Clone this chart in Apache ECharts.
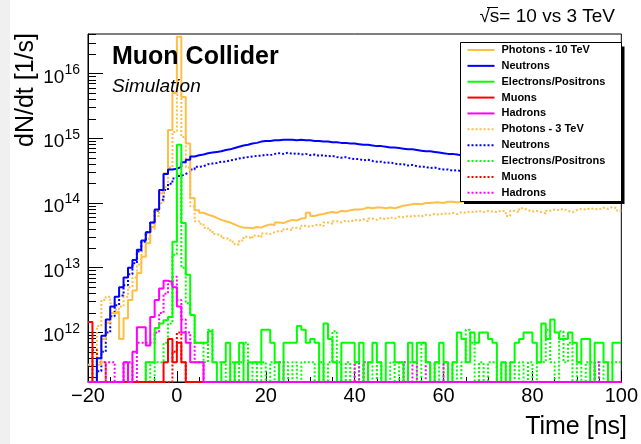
<!DOCTYPE html>
<html>
<head>
<meta charset="utf-8">
<script src="https://cdn.jsdelivr.net/npm/echarts@6/dist/echarts.min.js"></script>
<style>html,body{margin:0;padding:0;background:#fff;}#c{width:641px;height:444px;}</style>
</head>
<body>
<div id="c"></div>
<script>
// Histogram bins: 1 ns wide, from -20 ns to 100 ns (120 bins)
const BIN_START = -20, BIN_WIDTH = 1, NBINS = 120;
// Values are log10(dN/dt [1/s]) per bin; 0 = empty bin (drawn on the frame bottom)
const Y_MIN = 11.234, Y_MAX = 16.613;
const xTicks = [-20, 0, 20, 40, 60, 80, 100];
const yDecades = [12, 13, 14, 15, 16];

const photons10 = [
0,0,11.5,11.9,12.15,12.3,12.32,11.9,12.22,12.5,
12.65,12.92,13.17,13.38,13.63,13.89,14.15,14.46,15.13,15.7,
16.57,15.64,14.92,14.08,13.89,13.85,13.82,13.8,13.77,13.74,
13.72,13.7,13.67,13.64,13.62,13.62,13.61,13.63,13.62,13.65,
13.67,13.66,13.7,13.69,13.72,13.74,13.73,13.76,13.77,13.85,
13.8,13.82,13.83,13.85,13.86,13.85,13.88,13.87,13.89,13.9,
13.9,13.91,13.93,13.92,13.93,13.93,13.92,13.93,13.92,13.94,
13.96,13.97,13.98,13.99,13.98,14.0,14.0,14.01,14.01,14.0,
14.02,14.02,14.01,14.02,14.03,14.03,14.04,14.03,14.04,14.04,
14.05,14.04,14.05,14.05,14.06,14.05,14.06,14.06,14.06,14.07,
14.06,14.07,14.07,14.07,14.08,14.07,14.08,14.08,14.08,14.08,
14.09,14.08,14.09,14.08,14.09,14.09,14.08,14.09,14.09,14.08];

const neutrons10 = [
0,0,11.6,11.95,12.2,12.4,12.55,12.7,12.85,13.0,
13.12,13.28,13.42,13.55,13.7,13.9,14.2,14.45,14.52,14.53,
14.56,14.63,14.67,14.72,14.74,14.75,14.77,14.78,14.79,14.8,
14.82,14.83,14.85,14.87,14.89,14.9,14.92,14.93,14.95,14.96,
14.96,14.97,14.97,14.98,14.98,14.98,14.97,14.98,14.97,14.97,
14.96,14.96,14.95,14.95,14.94,14.94,14.93,14.93,14.92,14.92,
14.91,14.9,14.9,14.89,14.88,14.88,14.87,14.86,14.86,14.85,
14.84,14.83,14.83,14.82,14.81,14.8,14.8,14.79,14.78,14.77,
14.76,14.76,14.75,14.74,14.73,14.72,14.71,14.7,14.69,14.68,
14.67,14.66,14.65,14.64,14.63,14.62,14.61,14.61,14.6,14.59,
14.58,14.57,14.56,14.56,14.55,14.54,14.53,14.53,14.52,14.52,
14.51,14.51,14.5,14.5,14.49,14.49,14.49,14.48,14.48,14.48];

const electrons10 = [
0,0,0,0,0,0,0,0,0,0,
0,0,0,11.54,11.54,12.07,12.14,12.19,12.24,13.4,
14.9,13.69,12.89,12.27,11.84,11.84,11.84,12.02,11.54,0,
11.54,11.84,0,11.54,11.84,0,11.54,11.54,11.54,12.04,
12.04,11.84,11.54,0,11.84,11.84,11.84,12.1,12.04,11.84,
11.9,11.84,0,12.14,11.9,11.54,0,11.84,11.84,11.84,
11.54,11.84,0,11.54,11.84,11.54,0,11.84,11.84,11.54,
11.54,0,11.84,11.54,11.84,11.84,11.54,0,11.54,11.84,
11.54,0,11.54,12.0,11.9,11.54,12.0,11.84,12.0,12.0,
11.9,11.84,0,11.54,0,11.54,11.84,11.9,12.0,12.0,
11.84,11.54,12.14,11.9,12.2,12.0,11.9,11.9,12.0,11.84,
11.54,11.9,11.9,0,11.84,11.84,11.54,0,11.84,11.84];

const muons10 = [
12.16,0,0,0,0,0,0,0,0,0,
0,0,0,0,0,0,0,11.54,11.9,11.54,
11.84,11.54,0,0,0,0,0,0,0,0,
0,0,0,0,0,0,0,0,0,0,
0,0,0,0,0,0,0,0,0,0,
0,0,0,0,0,0,0,0,0,0,
0,0,0,0,0,0,0,0,0,0,
0,0,0,0,0,0,0,0,0,0,
0,0,0,0,0,0,0,0,0,0,
0,0,0,0,0,0,0,0,0,0,
0,0,0,0,0,0,0,0,0,0,
0,0,0,0,0,0,0,0,0,0];

const hadrons10 = [
0,0,0,0,0,0,0,0,11.54,0,
11.7,12.08,12.08,11.8,12.24,12.5,12.68,12.8,12.78,12.7,
12.4,12.0,11.84,11.54,11.54,11.54,0,0,0,0,
0,0,0,0,0,0,0,0,0,0,
0,0,0,0,0,0,0,0,0,0,
0,0,0,0,0,0,0,0,0,0,
0,0,0,0,0,0,0,0,0,0,
0,0,0,0,0,0,0,0,0,0,
0,0,0,0,0,0,0,0,0,0,
0,0,0,0,0,0,0,0,0,0,
0,0,0,0,0,0,0,0,0,0,
0,0,0,0,0,0,0,0,0,0];

const photons3 = [
11.5,11.5,12.1,12.5,12.55,12.45,12.35,12.4,12.55,12.7,
12.85,13.05,13.25,13.45,13.6,13.8,14.0,14.25,14.55,15.1,
15.67,15.02,14.55,13.95,13.72,13.68,13.62,13.58,13.52,13.5,
13.46,13.44,13.4,13.36,13.42,13.48,13.45,13.5,13.47,13.53,
13.52,13.55,13.57,13.56,13.6,13.58,13.62,13.6,13.65,13.63,
13.66,13.67,13.64,13.7,13.68,13.72,13.7,13.73,13.71,13.74,
13.73,13.75,13.72,13.76,13.74,13.77,13.75,13.78,13.76,13.79,
13.78,13.8,13.79,13.81,13.79,13.82,13.81,13.83,13.82,13.84,
13.83,13.85,13.83,13.86,13.85,13.87,13.86,13.88,13.86,13.88,
13.87,13.86,13.88,13.87,13.8,13.88,13.86,13.92,13.89,13.87,
13.88,13.86,13.84,13.88,13.9,13.89,13.91,13.88,13.86,13.89,
13.91,13.9,13.92,13.91,13.9,13.93,13.91,13.94,13.92,13.88];

const neutrons3 = [
0,0,11.4,11.7,12.0,12.25,12.42,12.57,12.73,12.9,
13.07,13.25,13.4,13.55,13.7,13.88,14.05,14.2,14.3,14.38,
14.42,14.45,14.48,14.52,14.56,14.57,14.6,14.61,14.62,14.64,
14.64,14.66,14.67,14.69,14.7,14.71,14.72,14.73,14.73,14.75,
14.74,14.76,14.77,14.76,14.78,14.76,14.77,14.75,14.76,14.74,
14.75,14.73,14.74,14.72,14.73,14.71,14.7,14.71,14.69,14.68,
14.68,14.66,14.67,14.65,14.64,14.64,14.62,14.63,14.61,14.6,
14.6,14.58,14.59,14.57,14.56,14.56,14.54,14.55,14.53,14.52,
14.52,14.5,14.51,14.49,14.48,14.47,14.47,14.45,14.44,14.44,
14.43,14.42,14.41,14.41,14.4,14.39,14.38,14.38,14.37,14.36,
14.35,14.35,14.34,14.33,14.33,14.32,14.31,14.31,14.3,14.29,
14.29,14.28,14.28,14.27,14.27,14.26,14.26,14.25,14.25,14.25];

const electrons3 = [
0,0,0,0,0,0,0,0,0,0,
0,0,0,11.54,0,11.54,11.54,11.84,12.14,13.2,
14.45,13.0,12.45,12.27,11.84,11.84,11.54,12.04,11.54,11.54,
11.54,0,11.54,0,11.54,11.84,0,11.54,0,11.54,
0,11.54,0,11.54,11.54,0,11.54,0,11.54,11.54,
11.54,0,11.54,0,11.54,12.02,11.54,0,11.54,0,
11.54,0,11.54,11.54,0,11.54,0,0,11.54,0,
11.54,0,11.54,11.54,0,11.84,11.54,0,11.54,0,
11.54,0,11.54,0,11.54,12.04,11.84,0,11.54,0,
11.54,11.54,0,11.54,0,11.54,0,11.54,0,11.54,
0,11.54,11.54,12.04,11.54,0,12.02,11.54,11.84,0,
11.54,0,11.54,11.54,0,11.54,0,11.54,11.54,11.54];

const muons3 = [
0,11.73,11.54,11.54,0,0,0,0,0,0,
0,0,0,0,0,0,0,0,0,11.7,
12.0,11.54,0,0,0,0,0,0,0,0,
0,0,0,0,0,0,0,0,0,0,
0,0,0,0,0,0,0,0,0,0,
0,0,0,0,0,0,0,0,0,0,
0,0,0,0,0,0,0,0,0,0,
0,0,0,0,0,0,0,0,0,0,
0,0,0,0,0,0,0,0,0,0,
0,0,0,0,0,0,0,0,0,0,
0,0,0,0,0,0,0,0,0,0,
0,0,0,0,0,0,0,0,0,0];

const hadrons3 = [
0,0,0,0,11.54,11.54,0,0,11.54,11.54,
0,11.84,11.84,11.84,11.84,12.0,12.3,12.6,12.75,12.86,
12.5,12.2,12.0,11.84,11.54,11.54,0,0,0,0,
0,0,0,0,0,0,0,0,0,0,
0,0,0,11.54,0,0,0,0,0,0,
0,0,0,0,0,0,0,0,0,0,
11.54,0,11.54,0,0,0,0,0,0,0,
0,11.54,0,11.54,0,0,11.54,0,0,0,
11.54,0,0,0,0,0,0,0,0,0,
0,0,0,0,0,0,0,0,0,0,
0,0,0,0,0,0,0,0,0,0,
0,0,0,0,11.54,0,0,0,0,0];

const FONT = 'Liberation Sans, Arial, Helvetica, sans-serif';
const C_PHOT = '#ffbe46', C_NEUT = '#0000ff', C_ELEC = '#00ff00', C_MUON = '#ff0000', C_HAD = '#ff00ff';

const edges = [];
for (let i = 0; i <= NBINS; i++) edges.push(BIN_START + i * BIN_WIDTH);
function histData(vals) {
  const d = vals.map((v, i) => [edges[i], v > 0 ? v : Y_MIN]);
  const last = vals[vals.length - 1];
  d.push([edges[vals.length], last > 0 ? last : Y_MIN]);
  return d;
}
function hist(name, vals, color, dotted) {
  return {
    name: name, type: 'line', step: 'end', symbol: 'none', showSymbol: false,
    data: histData(vals), clip: true, silent: true,
    lineStyle: { color: color, width: 2, type: dotted ? 'dotted' : 'solid' },
    itemStyle: { color: color }
  };
}
const minorLogTicks = [];
for (let n = 11; n <= 16; n++) for (let k = 2; k <= 9; k++) {
  const v = n + Math.log10(k);
  if (v > Y_MIN && v < Y_MAX) minorLogTicks.push(v);
}

const names10 = ['Photons - 10 TeV', 'Neutrons', 'Electrons/Positrons', 'Muons', 'Hadrons'];
const names3 = ['Photons - 3 TeV', 'Neutrons ', 'Electrons/Positrons ', 'Muons ', 'Hadrons '];

const chart = echarts.init(document.getElementById('c'), null, { renderer: 'canvas' });
chart.setOption({
  animation: false,
  backgroundColor: '#fff',
  grid: { left: 88, top: 34, width: 539, height: 348, show: true, borderColor: '#000', borderWidth: 1, backgroundColor: 'transparent' },
  xAxis: {
    type: 'value', min: -20, max: 100, interval: 20,
    axisLine: { show: true, onZero: false, lineStyle: { color: '#000', width: 1 } },
    axisTick: { show: true, inside: true, length: 11, lineStyle: { color: '#000', width: 1 } },
    minorTick: { show: true, splitNumber: 4, length: 5, lineStyle: { color: '#000', width: 1 } },
    splitLine: { show: false },
    axisLabel: { color: '#000', fontSize: 20, fontFamily: FONT, margin: 4,
      formatter: v => (v < 0 ? '\u2212' + Math.abs(v) : String(v)) }
  },
  yAxis: [{
    type: 'value', min: Y_MIN, max: Y_MAX, position: 'left',
    axisLine: { show: true, onZero: false, lineStyle: { color: '#000', width: 1 } },
    axisTick: { show: true, inside: true, length: 15, customValues: yDecades, lineStyle: { color: '#000', width: 1 } },
    splitLine: { show: false },
    axisLabel: {
      customValues: yDecades, margin: 8, color: '#000', fontFamily: FONT,
      formatter: v => '{b|10}{s|' + Math.round(v) + '}',
      rich: {
        b: { fontSize: 19, lineHeight: 19, fontFamily: FONT, color: '#000', padding: [7.6, 0, 0, 0] },
        s: { fontSize: 14, lineHeight: 14, fontFamily: FONT, color: '#000', padding: [0, 0, 7.4, 0] }
      }
    }
  }, {
    type: 'value', min: Y_MIN, max: Y_MAX, position: 'left', offset: 0,
    axisLine: { show: false, onZero: false },
    axisTick: { show: true, inside: true, length: 8, customValues: minorLogTicks, lineStyle: { color: '#000', width: 1 } },
    axisLabel: { show: false },
    splitLine: { show: false }
  }],
  legend: {
    data: names10.concat(names3),
    orient: 'vertical', left: 466.5, top: 44.5, padding: 0,
    itemWidth: 27, itemHeight: 11, itemGap: 4.86,
    selectedMode: false, z: 10,
    itemStyle: { opacity: 0 },
    textStyle: { fontFamily: FONT, fontWeight: 'bold', fontSize: 11, lineHeight: 11, color: '#000', padding: [0, 0, 0, 2] }
  },
  graphic: [
    { type: 'rect', z: -1, shape: { x: 0, y: 0, width: 10, height: 444 }, style: { fill: '#f0f0f0' } },
    { type: 'rect', z: 5, shape: { x: 464, y: 46.5, width: 160.5, height: 157.5 }, style: { fill: '#000' } },
    { type: 'rect', z: 6, shape: { x: 460.5, y: 42.5, width: 161, height: 159 }, style: { fill: '#fff', stroke: '#000', lineWidth: 1 } },
    { type: 'text', z: 7, x: 112, y: 57, style: { text: 'Muon Collider', fontFamily: FONT, fontWeight: 'bold', fontSize: 25, fill: '#000', verticalAlign: 'middle' } },
    { type: 'text', z: 7, x: 112, y: 86.5, style: { text: 'Simulation', fontFamily: FONT, fontStyle: 'italic', fontSize: 19, fill: '#000', verticalAlign: 'middle' } },
    { type: 'text', z: 7, x: 615, y: 17, style: { text: '\u221As= 10 vs 3 TeV', fontFamily: FONT, fontSize: 19, fill: '#000', align: 'right', verticalAlign: 'middle' } },
    { type: 'line', z: 7, shape: { x1: 487, y1: 7.5, x2: 498, y2: 7.5 }, style: { stroke: '#000', lineWidth: 1 } },
    { type: 'text', z: 7, x: 627, y: 427, style: { text: 'Time [ns]', fontFamily: FONT, fontSize: 25, fill: '#000', align: 'right', verticalAlign: 'middle' } },
    { type: 'text', z: 7, x: 38.5, y: 33, rotation: Math.PI / 2, style: { text: 'dN/dt [1/s]', fontFamily: FONT, fontSize: 25, fill: '#000', align: 'right', verticalAlign: 'bottom' } }
  ],
  series: [
    hist(names3[0], photons3, C_PHOT, true),
    hist(names3[1], neutrons3, C_NEUT, true),
    hist(names3[2], electrons3, C_ELEC, true),
    hist(names3[3], muons3, C_MUON, true),
    hist(names3[4], hadrons3, C_HAD, true),
    hist(names10[0], photons10, C_PHOT, false),
    hist(names10[1], neutrons10, C_NEUT, false),
    hist(names10[2], electrons10, C_ELEC, false),
    hist(names10[3], muons10, C_MUON, false),
    hist(names10[4], hadrons10, C_HAD, false)
  ]
});
</script>
</body>
</html>
